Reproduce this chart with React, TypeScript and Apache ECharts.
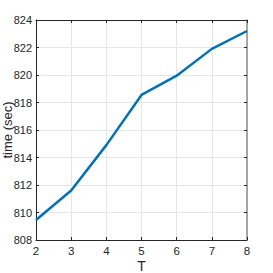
import React, { useEffect, useRef } from "react";
import * as echarts from "echarts";

const categories = [2, 3, 4, 5, 6, 7, 8];
const timeValues = [809.45, 811.6, 814.9, 818.55, 819.95, 821.9, 823.2];
const yTicks = { min: 808, max: 824, interval: 2 };
const xTicks = { min: 2, max: 8, interval: 1 };

export default function App() {
  const ref = useRef<HTMLDivElement>(null);
  useEffect(() => {
    if (!ref.current) return;
    const chart = echarts.init(ref.current, undefined, { renderer: "svg" });
    const textColor = "#262626";
    const tickFont = { color: textColor, fontSize: 11, fontFamily: "Liberation Sans, Arial, sans-serif" };
    const nameFont = { color: textColor, fontSize: 13, fontFamily: "Liberation Sans, Arial, sans-serif" };
    chart.setOption({
      animation: false,
      backgroundColor: "#ffffff",
      grid: { left: 36, right: 26, top: 20, bottom: 33, show: false, containLabel: false, outerBoundsMode: "none" },
      xAxis: [
        {
          type: "value",
          min: xTicks.min,
          max: xTicks.max,
          interval: xTicks.interval,
          name: "T",
          nameLocation: "middle",
          nameGap: 19,
          nameMoveOverlap: false,
          nameTextStyle: { ...nameFont, fontSize: 14 },
          axisLine: { show: true, lineStyle: { color: "#262626", width: 1 } },
          axisTick: { show: true, inside: true, length: 3, lineStyle: { color: "#262626" } },
          axisLabel: { ...tickFont, fontSize: 11.5, margin: 5 },
          splitLine: { show: true, lineStyle: { color: "#e6e6e6", width: 1 } },
        },
        {
          type: "value",
          position: "top",
          min: xTicks.min,
          max: xTicks.max,
          interval: xTicks.interval,
          axisLine: { show: true, lineStyle: { color: "#262626", width: 1 } },
          axisTick: { show: true, inside: true, length: 3, lineStyle: { color: "#262626" } },
          axisLabel: { show: false },
          splitLine: { show: false },
        },
      ],
      yAxis: [
        {
          type: "value",
          min: yTicks.min,
          max: yTicks.max,
          interval: yTicks.interval,
          name: "time (sec)",
          nameLocation: "middle",
          nameGap: 22,
          nameMoveOverlap: false,
          nameTextStyle: nameFont,
          axisLine: { show: true, lineStyle: { color: "#262626", width: 1 } },
          axisTick: { show: true, inside: true, length: 3, lineStyle: { color: "#262626" } },
          axisLabel: { ...tickFont, margin: 4 },
          splitLine: { show: true, lineStyle: { color: "#e6e6e6", width: 1 } },
        },
        {
          type: "value",
          position: "right",
          min: yTicks.min,
          max: yTicks.max,
          interval: yTicks.interval,
          axisLine: { show: true, lineStyle: { color: "#8c8c8c", width: 1.5 } },
          axisTick: { show: true, inside: true, length: 3, lineStyle: { color: "#262626" } },
          axisLabel: { show: false },
          splitLine: { show: false },
        },
      ],
      series: [
        {
          type: "line",
          data: categories.map((c, i) => [c, timeValues[i]]),
          showSymbol: false,
          lineStyle: { color: "#0072BD", width: 2.5 },
          itemStyle: { color: "#0072BD" },
        },
      ],
    });
    return () => chart.dispose();
  }, []);
  return <div ref={ref} style={{ width: 273, height: 273, position: "absolute", left: 0, top: 0 }} />;
}
